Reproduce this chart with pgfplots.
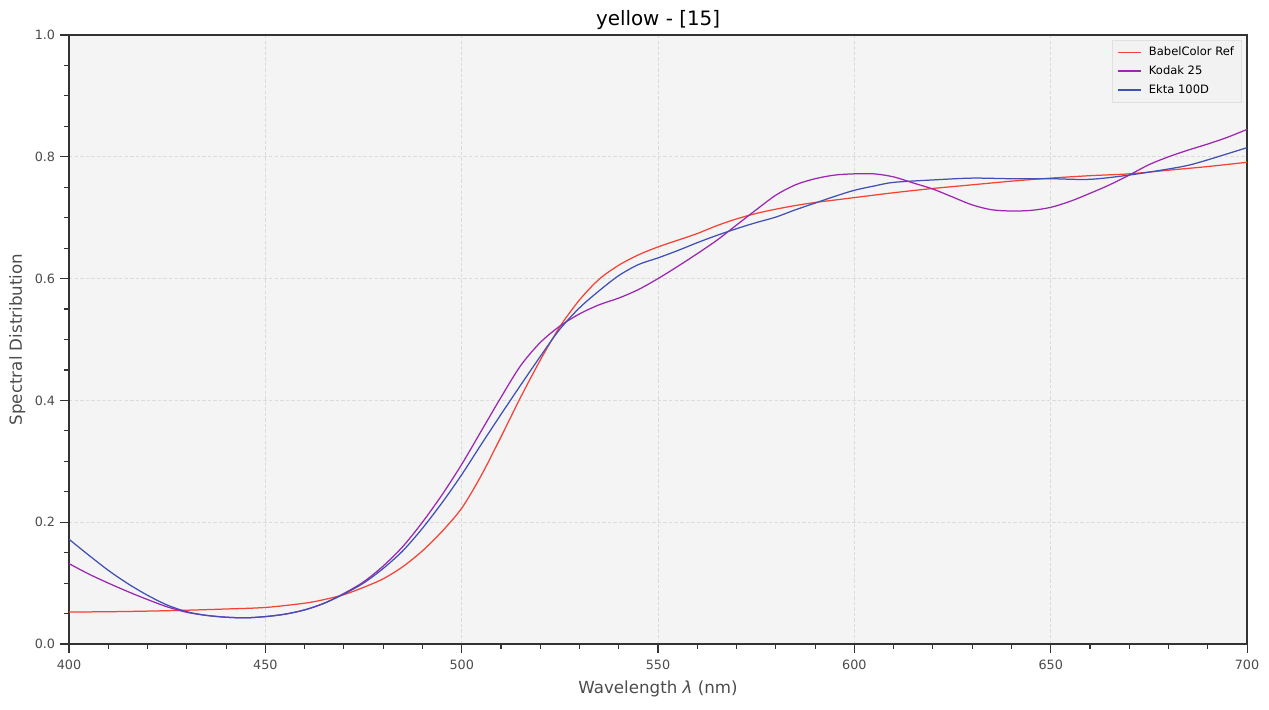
\documentclass[border=0pt]{standalone}
\usepackage{pgfplots}
\pgfplotsset{compat=1.18}
\usepackage{fontspec}
\setmainfont{DejaVu Sans}

\definecolor{cref}{HTML}{F44336}
\definecolor{ckodak}{HTML}{9C27B0}
\definecolor{cekta}{HTML}{3F51B5}
\definecolor{axbg}{HTML}{F4F4F4}

\pgfplotstableread{
x y
400 0.0525
410 0.053
420 0.054
430 0.0555
440 0.0575
450 0.060
460 0.067
465 0.073
470 0.081
475 0.093
480 0.107
485 0.127
490 0.153
495 0.185
500 0.223
505 0.277
510 0.340
515 0.405
520 0.466
525 0.521
530 0.565
535 0.599
540 0.622
545 0.639
550 0.652
555 0.663
560 0.674
565 0.687
570 0.698
575 0.707
580 0.714
585 0.720
590 0.725
595 0.729
600 0.733
610 0.741
620 0.748
630 0.754
640 0.760
650 0.765
660 0.769
670 0.772
680 0.778
690 0.784
700 0.791
}\babel

\pgfplotstableread{
x y
400 0.132
405 0.115
410 0.100
415 0.086
420 0.073
425 0.061
430 0.052
435 0.047
440 0.044
445 0.043
450 0.045
455 0.049
460 0.056
465 0.067
470 0.083
475 0.102
480 0.128
485 0.160
490 0.200
495 0.245
500 0.295
505 0.350
510 0.405
515 0.457
520 0.495
525 0.522
530 0.542
535 0.557
540 0.568
545 0.582
550 0.600
555 0.620
560 0.641
565 0.663
570 0.688
575 0.713
580 0.737
585 0.754
590 0.764
595 0.770
600 0.772
605 0.772
610 0.767
615 0.757
620 0.747
625 0.734
630 0.721
635 0.713
640 0.711
645 0.712
650 0.717
655 0.727
660 0.740
665 0.754
670 0.770
675 0.787
680 0.800
685 0.811
690 0.821
695 0.832
700 0.845
}\kodak

\pgfplotstableread{
x y
400 0.172
405 0.146
410 0.121
415 0.099
420 0.080
425 0.064
430 0.053
435 0.047
440 0.044
445 0.043
450 0.045
455 0.049
460 0.056
465 0.067
470 0.082
475 0.100
480 0.124
485 0.153
490 0.190
495 0.232
500 0.278
505 0.328
510 0.377
515 0.425
520 0.472
525 0.517
530 0.552
535 0.580
540 0.605
545 0.623
550 0.634
555 0.646
560 0.659
565 0.671
570 0.682
575 0.692
580 0.701
585 0.713
590 0.724
595 0.735
600 0.745
605 0.752
610 0.758
620 0.762
630 0.765
640 0.764
650 0.764
660 0.763
670 0.770
680 0.780
685 0.786
690 0.795
700 0.815
}\ekta

\begin{document}
\begin{tikzpicture}
\begin{axis}[
    scale only axis,
    width=848.2pt,
    height=438.5pt,
    xmin=400, xmax=700,
    ymin=0, ymax=1,
    xtick={400,450,...,700},
    ytick={0,0.2,...,1.0},
    minor x tick num=4,
    minor y tick num=3,
    tick pos=left,
    tick align=outside,
    major tick length=6.5pt,
    minor tick length=3.6pt,
    every tick/.style={black!80, line width=0.8pt},
    axis background/.style={fill=axbg},
    axis line style={black!80, line width=1pt},
    grid=major,
    major grid style={black!14, line width=0.5pt, dash pattern=on 2.5pt off 1.5pt},
    /pgf/number format/assume math mode=true,
    ticklabel style={font=\fontsize{9.2}{11}\selectfont, text=black!70},
    yticklabel style={/pgf/number format/.cd, fixed, fixed zerofill, precision=1},
    xticklabel style={yshift=-1.5pt, /pgf/number format/.cd, fixed, precision=0, 1000 sep={}},
    title={yellow - [15]},
    title style={font=\fontsize{14.3}{17}\selectfont, text=black, yshift=-5.5pt},
    xlabel={Wavelength \textit{λ} (nm)},
    ylabel={Spectral Distribution},
    xlabel style={yshift=-1.2pt},
    label style={font=\fontsize{12}{14}\selectfont, text=black!70},
    legend style={at={(rel axis cs:0.995,0.992)}, anchor=north east,
        font=\fontsize{8.3}{10}\selectfont, draw=black!12, fill=black!5,
        row sep=1.6pt, inner sep=3pt,
        /tikz/every odd column/.append style={column sep=3pt}},
    legend image post style={line width=1.1pt},
    legend cell align={left},
]
\addplot[cref, line width=0.9pt, smooth] table[x=x, y=y] {\babel};
\addlegendentry{BabelColor Ref}
\addplot[ckodak, line width=0.9pt, smooth] table[x=x, y=y] {\kodak};
\addlegendentry{Kodak 25}
\addplot[cekta, line width=0.9pt, smooth] table[x=x, y=y] {\ekta};
\addlegendentry{Ekta 100D}
\coordinate (sw) at (rel axis cs:0,0);
\coordinate (ne) at (rel axis cs:1,1);
\end{axis}
\pgfresetboundingbox
\path[use as bounding box] ([shift={(-49.7pt,-46.8pt)}]sw) rectangle ([shift={(15.8pt,25.2pt)}]ne);
\end{tikzpicture}
\end{document}
